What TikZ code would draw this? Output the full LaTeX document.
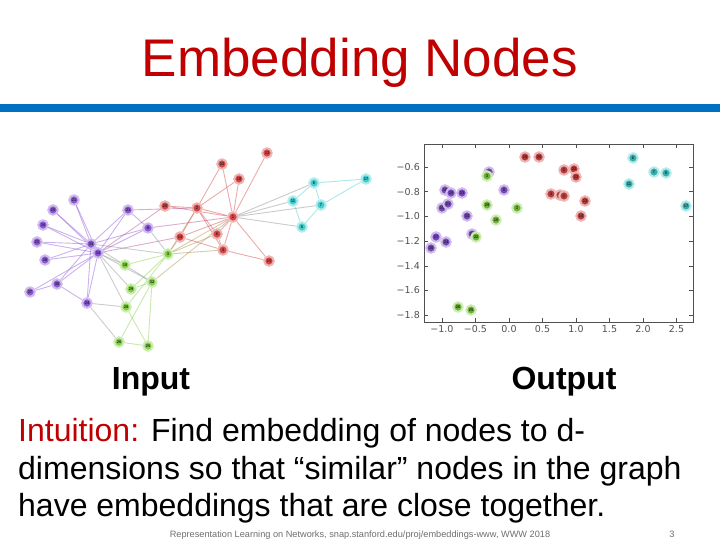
\documentclass[tikz,border=0pt]{standalone}
\usepackage{fontspec}
\setmainfont{Liberation Sans}
\newfontfamily\plotfont{DejaVu Sans}
\pgfdeclarelayer{bg}
\pgfsetlayers{bg,main}
\definecolor{titlered}{RGB}{192,0,0}
\definecolor{barblue}{RGB}{0,112,192}
\definecolor{gred}{RGB}{212,68,68}
\definecolor{gpurple}{RGB}{138,84,214}
\definecolor{ggreen}{RGB}{130,208,66}
\definecolor{gcyan}{RGB}{66,204,204}
\definecolor{axisgray}{RGB}{80,80,80}
\definecolor{footgray}{RGB}{110,110,110}
\tikzset{
  gnode/.style={circle, inner sep=0pt, minimum size=9.5pt, fill=#1, draw=#1!40, line width=2pt,
    font=\fontsize{4}{4.5}\selectfont\bfseries, text=black!85},
  spoint/.style={circle, inner sep=0pt, minimum size=9.5pt, fill=#1!85!black, draw=#1!40, line width=2pt,
    font=\fontsize{4}{4.5}\selectfont\bfseries, text=black!85},
  gedge/.style={line width=0.9pt, opacity=0.45},
  ticklab/.style={font=\plotfont\fontsize{9.5}{10}\selectfont, text=axisgray, inner sep=1pt},
  bodytext/.style={font=\fontsize{32}{38}\selectfont, anchor=base west, inner sep=0pt},
  labeltext/.style={font=\fontsize{32}{38}\selectfont\bfseries, anchor=base, inner sep=0pt}
}
\begin{document}
\begin{tikzpicture}[x=1pt,y=-1pt]
\useasboundingbox (0,0) rectangle (720,540);
% title and bar
\node[font=\fontsize{53}{60}\selectfont, text=titlered, anchor=base, inner sep=0pt] (title) at (360,77) {Embedding Nodes};
\fill[barblue] (0,104) rectangle (720,112);

% graph nodes
\foreach \i/\x/\y/\c in {
 1/233/217/gred, 2/197/208/gred, 3/168/254/ggreen, 4/223/250/gred, 5/302/227/gcyan,
 6/314/183/gcyan, 7/321/205/gcyan, 8/217/234/gred, 9/148/228/gpurple, 10/125/265/ggreen,
 11/293/201/gcyan, 12/267/153/gred, 13/269/261/gred, 14/180/237/gred, 15/53/210/gpurple,
 16/43/225/gpurple, 17/366/179/gcyan, 18/239/179/gred, 19/45/260/gpurple, 20/165/206/gred,
 21/74/200/gpurple, 22/222/164/gred, 23/37/242/gpurple, 24/87/303/gpurple, 25/148/346/ggreen,
 26/119/342/ggreen, 27/30/292/gpurple, 28/126/307/ggreen, 29/131/289/ggreen, 30/57/284/gpurple,
 31/128/210/gpurple, 32/152/282/ggreen, 33/91/244/gpurple, 34/98/253/gpurple}{
  \xglobal\colorlet{c\i}{\c}
  \node[gnode=\c] (n\i) at (\x,\y) {\i};
}
\begin{pgfonlayer}{bg}
\foreach \a/\b in {1/2,1/3,1/4,1/5,1/6,1/7,1/8,1/9,1/11,1/12,1/13,1/14,1/18,1/20,1/22,1/32,
 2/3,2/4,2/8,2/14,2/18,2/20,2/22,2/31,
 3/4,3/8,3/9,3/10,3/14,3/28,3/29,3/33,
 4/8,4/13,4/14,5/7,5/11,6/7,6/11,6/17,7/17,
 9/31,9/33,9/34,10/34,14/34,15/33,15/34,16/33,16/34,19/33,19/34,20/34,21/33,21/34,23/33,23/34,
 24/26,24/28,24/30,24/33,24/34,25/26,25/28,25/32,26/32,27/30,27/34,28/34,29/32,29/34,
 30/33,30/34,31/33,31/34,32/33,32/34,33/34}{
  \draw[gedge, draw=c\a!50!c\b] (n\a) -- (n\b);
}
\end{pgfonlayer}

% scatter plot axes
\draw[axisgray, line width=0.9pt] (424,144) rectangle (693,322);
\foreach \xp/\lab in {442/−1.0, 475.5/−0.5, 509/0.0, 542.5/0.5, 576/1.0, 609.5/1.5, 643/2.0, 676.5/2.5}{
  \draw[axisgray, line width=0.6pt] (\xp,322) -- (\xp,318);
  \draw[axisgray, line width=0.6pt] (\xp,144) -- (\xp,148);
  \node[ticklab, anchor=north] at (\xp,324) {\lab};
}
\foreach \yp/\lab in {167/−0.6, 191.7/−0.8, 216.4/−1.0, 241.1/−1.2, 265.8/−1.4, 290.5/−1.6, 315.2/−1.8}{
  \draw[axisgray, line width=0.6pt] (424,\yp) -- (428,\yp);
  \draw[axisgray, line width=0.6pt] (693,\yp) -- (689,\yp);
  \node[ticklab, anchor=east] at (421,\yp) {\lab};
}
% scatter points
\foreach \x/\y/\c/\lab/\nm in {
 525/157/gred/18/p1, 539/157/gred/20/p2, 564/170/gred/2/p3, 574/169/gred/22/p4, 576/177/gred/12/p5,
 551/194/gred/4/p6, 560/195/gred/8/p7, 564/196/gred/1/p8, 585/201/gred/13/p9, 581/216/gred/14/p10,
 633/158/gcyan/6/p11, 654/172/gcyan/7/p12, 666/173/gcyan/5/p13, 629/184/gcyan/11/p14, 686/206/gcyan/17/p15,
 489/172/gpurple/31/p16, 445/190/gpurple/16/p17, 451/193/gpurple/15/p18, 462/193/gpurple/23/p19,
 504/190/gpurple/9/p20, 442/208/gpurple/19/p21, 448/204/gpurple/21/p22, 467/216/gpurple/33/p23,
 472/234/gpurple/34/p24, 436/237/gpurple/27/p25, 446/242/gpurple/24/p26, 431/248/gpurple/30/p27,
 487/176/ggreen/3/p28, 487/205/ggreen/29/p29, 517/208/ggreen/3/p30, 496/220/ggreen/10/p31,
 476/237/ggreen/32/p32, 458/307/ggreen/26/p33, 471/310/ggreen/25/p34}{
  \node[spoint=\c] (\nm) at (\x,\y) {\lab};
}

% labels
\node[labeltext] (input) at (151,389) {Input};
\node[labeltext] (output) at (564,389) {Output};

% body text
\node[bodytext] (l1) at (18,441) {\textcolor{titlered}{Intuition:} Find embedding of nodes to d-};
\node[bodytext] (l2) at (18,479) {dimensions so that “similar” nodes in the graph};
\node[bodytext] (l3) at (18,516) {have embeddings that are close together.};

% footer
\node[font=\fontsize{9.2}{10}\selectfont, text=footgray, anchor=base, inner sep=0pt] (foot) at (360,537) {Representation Learning on Networks, snap.stanford.edu/proj/embeddings-www, WWW 2018};
\node[font=\fontsize{9.2}{10}\selectfont, text=footgray, anchor=base, inner sep=0pt] (pg) at (672,537) {3};
\end{tikzpicture}
\end{document}
